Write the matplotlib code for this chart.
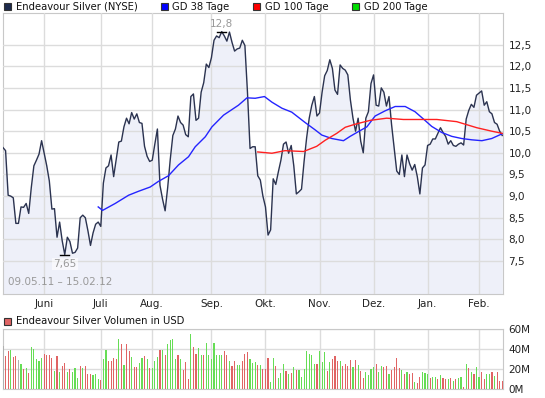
import numpy as np
import matplotlib
matplotlib.use('Agg')
import matplotlib.pyplot as plt
from matplotlib.patches import Rectangle

# ===== DATA =====
price = [10.12, 10.05, 9.02, 9.0, 8.96, 8.37, 8.37, 8.75, 8.74, 8.83,
         8.6, 9.2, 9.7, 9.83, 9.97, 10.28, 9.99, 9.7, 9.35, 8.7,
         8.71, 8.05, 8.4, 7.97, 7.65, 8.05, 7.95, 7.68, 7.7, 7.8,
         8.5, 8.56, 8.5, 8.2, 7.86, 8.15, 8.35, 8.4, 8.3, 9.3,
         9.65, 9.7, 9.95, 9.45, 9.85, 10.25, 10.27, 10.6, 10.8, 10.67,
         10.93, 10.78, 10.9, 10.7, 10.68, 10.15, 9.92, 9.8, 9.83, 10.2,
         10.55, 9.25, 8.93, 8.66, 9.2, 9.85, 10.4, 10.55, 10.85, 10.7,
         10.64, 10.42, 10.37, 11.3, 11.36, 10.75, 10.8, 11.4, 11.62, 12.05,
         11.97, 12.2, 12.6, 12.7, 12.66, 12.8, 12.7, 12.58, 12.79, 12.55,
         12.35, 12.4, 12.42, 12.6, 12.48, 11.4, 10.1, 10.14, 10.14, 9.47,
         9.37, 9.0, 8.75, 8.1, 8.22, 9.4, 9.27, 9.56, 9.83, 10.2,
         10.25, 9.99, 10.17, 9.7, 9.05, 9.1, 9.16, 9.8, 10.35, 10.8,
         11.1, 11.3, 10.85, 10.92, 11.4, 11.78, 11.9, 12.15, 11.95, 11.45,
         11.35, 12.03, 11.95, 11.91, 11.8, 11.22, 10.8, 10.5, 10.8, 10.27,
         10.0, 10.8, 10.95, 11.6, 11.8, 11.1, 11.08, 11.5, 11.4, 11.08,
         11.3, 10.65, 10.12, 9.58, 9.5, 9.95, 9.45, 9.95, 9.75, 9.6,
         9.73, 9.45, 9.05, 9.65, 9.72, 10.17, 10.2, 10.32, 10.32, 10.45,
         10.58, 10.47, 10.38, 10.2, 10.28, 10.17, 10.15, 10.2, 10.23, 10.18,
         10.78, 10.98, 11.12, 11.05, 11.33, 11.38, 11.43, 11.1, 11.18, 10.95,
         10.9, 10.7, 10.66, 10.5, 10.4]

gd38_idx = [37, 38.7, 43.6, 48.8, 52.6, 57.2, 60.4, 64.3, 68.2, 72.1,
            74.7, 78.6, 81.2, 85.7, 91.5, 94.8, 98.0, 101.6, 104.5, 108.4,
            112.2, 117.4, 121.3, 123.9, 127.8, 132.3, 134.9, 138.1, 141.4, 144.6,
            148.5, 152.4, 156.3, 160.1, 163.4, 166.6, 170.5, 174.4, 178.3, 182.2,
            186.1, 189.9, 194]
gd38_val = [8.75, 8.67, 8.83, 9.02, 9.11, 9.21, 9.34, 9.47, 9.72, 9.91,
            10.14, 10.37, 10.6, 10.87, 11.1, 11.27, 11.26, 11.3, 11.17, 11.03,
            10.94, 10.7, 10.53, 10.41, 10.33, 10.28, 10.38, 10.49, 10.6, 10.85,
            10.97, 11.07, 11.07, 10.95, 10.78, 10.61, 10.47, 10.38, 10.33, 10.3,
            10.28, 10.33, 10.44]

gd100_idx = [99, 104.5, 109.6, 116.8, 121.9, 125.2, 129.7, 133, 136.8, 142.7,
             149.1, 155.6, 168.6, 176.3, 184.1, 189.9, 194]
gd100_val = [10.02, 9.99, 10.05, 10.03, 10.15, 10.29, 10.45, 10.59, 10.66, 10.75,
             10.8, 10.77, 10.77, 10.72, 10.58, 10.5, 10.45]

volume = [43.3, 33.3, 38.3, 39.3, 32, 33.3, 29.3, 25.3, 20.3, 21.3,
          16.7, 42.7, 40.3, 30, 28.7, 31.7, 35.3, 34.3, 34.3, 31,
          18.3, 33.3, 17.7, 23.7, 26.7, 17.7, 20.3, 17.7, 21.7, 11.7,
          23.7, 21.7, 23.7, 15.3, 15.3, 14.3, 15.3, 10.3, 9.3, 30.3,
          39.3, 28.3, 28.3, 31, 30, 50.3, 45.3, 24.3, 45.3, 38.3,
          32.7, 22.7, 22.7, 26, 31, 33.3, 30.3, 21, 21, 28.3,
          32, 39.3, 39.3, 34.3, 45.3, 49.3, 50, 30.3, 34.3, 30.3,
          19.3, 27.7, 10.3, 55.3, 42.7, 35.3, 41.7, 34.3, 34.3, 46.7,
          34.3, 30.3, 46.7, 34, 34.3, 34.3, 38.3, 34.3, 28.7, 23.7,
          28.3, 24.3, 24.3, 28.7, 35, 37, 30.3, 26.7, 27.7, 24.3,
          24.3, 20.3, 20.3, 31.7, 7.7, 31.7, 23.3, 11.7, 16.7, 25.3,
          18.3, 15.3, 16.7, 22.7, 19.3, 19.3, 12.7, 20.3, 38.3, 35.3,
          34.3, 25.3, 25.3, 38.7, 27.7, 37, 18.3, 27.7, 30, 33.3,
          28.3, 28.3, 23.3, 25.3, 23.3, 29.3, 22, 29.3, 24.3, 18.3,
          11, 17.7, 14.3, 20.3, 22.7, 25.3, 17.7, 23.3, 22, 23.3,
          15.3, 19.3, 22, 31, 21.7, 19.3, 15.3, 17.7, 15.3, 16.7,
          7, 6.7, 12, 17.3, 16, 15.3, 11.7, 12.7, 12, 10.3,
          14.3, 11, 10, 10, 11, 8.7, 10, 11, 12, 2,
          25.3, 21.7, 17.7, 15.3, 22.7, 12.7, 17.7, 10.3, 15.3, 15.3,
          17.7, 13.3, 17.7, 8.7, 8.7]
# g = up day, r = down day, n = unchanged
vol_dir = ('nrrgrrngrg' 'rgggggrrrr' 'grgrrgrggg' 'rgrrrgggrg'
           'grrrrgrgrr' 'grrggrgrgg' 'grgrggggrg' 'rrrgrrggrg'
           'ggggggrrgr' 'rggrrrgggr' 'grrrggrggg' 'rgrgrggggg'
           'ggrgggrgrr' 'rgrrrrgrgr' 'rggggrggrr' 'grrrrgrgrr'
           'grrgggrggr' 'grrgrgrggr' 'grgrggrrgg' 'rgrrr')

month_pos = [16, 38, 58, 81, 102, 123, 144, 165, 185]
month_lbl = ['Juni', 'Juli', 'Aug.', 'Sep.', 'Okt.', 'Nov.', 'Dez.', 'Jan.', 'Feb.']
price_ticks = [7.5, 8.0, 8.5, 9.0, 9.5, 10.0, 10.5, 11.0, 11.5, 12.0, 12.5]
vol_ticks = [0, 20, 40, 60]

# ===== CHART =====
plt.rcParams['font.family'] = 'DejaVu Sans'
fig = plt.figure(figsize=(5.45, 3.98), dpi=100)
W, H = 545, 398

grid_c = '#dcdcdc'
spine_c = '#c8c8c8'
x = np.arange(len(price))
xmax = 194.3

ax = fig.add_axes([3 / W, 1 - 293.5 / H, 500 / W, 280.5 / H])
ax.fill_between(x, price, 6.75, color='#eef0f9', lw=0, zorder=1)
ax.plot(x, price, color='#2b3350', lw=1.0, zorder=3)
ax.plot(gd38_idx, gd38_val, color='#2424ff', lw=1.0, zorder=4)
ax.plot(gd100_idx, gd100_val, color='#ff2020', lw=1.0, zorder=4)
ax.set_xlim(0, xmax)
ax.set_ylim(6.75, 13.23)
ax.set_axisbelow(False)
ax.grid(True, color=grid_c, lw=1, zorder=2)
ax.set_yticks(price_ticks)
ax.set_yticklabels([f'{t:.1f}'.replace('.', ',') for t in price_ticks])
ax.yaxis.tick_right()
ax.set_xticks(month_pos)
ax.set_xticklabels(month_lbl)
ax.tick_params(length=0, labelsize=7.5, colors='#222222', pad=4)
for s in ax.spines.values():
    s.set_color(spine_c)

imax = int(np.argmax(price))
imin = int(np.argmin(price))
ax.plot([imax - 1.7, imax + 1.7], [price[imax]] * 2, color='black', lw=1, zorder=5)
ax.text(imax, price[imax] + 0.06, f'{price[imax]:g}'.replace('.', ','),
        ha='center', va='bottom', fontsize=7.5, color='#999999', zorder=5)
ax.plot([imin - 1.7, imin + 1.7], [price[imin]] * 2, color='black', lw=1, zorder=5)
ax.text(imin, price[imin] - 0.1, f'{price[imin]:g}'.replace('.', ','),
        ha='center', va='top', fontsize=7.5, color='#999999', zorder=5,
        bbox=dict(facecolor='white', edgecolor='none', alpha=0.6, pad=1))
ax.text(0.01, 0.022, '09.05.11 \u2013 15.02.12', transform=ax.transAxes,
        ha='left', va='bottom', fontsize=7.5, color='#999999')

# volume panel
axv = fig.add_axes([3 / W, 1 - 389.3 / H, 500 / W, 60 / H])
cmap = {'r': '#e06464', 'g': '#66dd55', 'n': '#b0b0b0'}
axv.bar(x, volume, width=0.45, color=[cmap[c] for c in vol_dir], zorder=3)
axv.set_xlim(0, xmax)
axv.set_ylim(0, 60)
axv.set_xticks(month_pos)
axv.set_xticklabels([])
axv.set_yticks(vol_ticks)
axv.set_yticklabels([f'{t}M' for t in vol_ticks])
axv.yaxis.tick_right()
axv.grid(True, color=grid_c, lw=1, zorder=0)
axv.tick_params(length=0, labelsize=7.5, colors='#222222', pad=4)
for s in axv.spines.values():
    s.set_color(spine_c)

# legends
def legend_item(x0, yc, color, label):
    fig.patches.append(Rectangle((x0 / W, 1 - (yc + 3.5) / H), 7 / W, 7 / H,
                                 transform=fig.transFigure, facecolor=color,
                                 edgecolor='#333333', lw=0.8))
    fig.text((x0 + 12) / W, 1 - yc / H, label, fontsize=7.2, va='center',
             ha='left', color='#111111')

legend_item(3.5, 6.5, '#1c2a4c', 'Endeavour Silver (NYSE)')
legend_item(160.5, 6.5, '#0000ff', 'GD 38 Tage')
legend_item(253, 6.5, '#ff0000', 'GD 100 Tage')
legend_item(352, 6.5, '#00dd00', 'GD 200 Tage')
legend_item(3.5, 321, '#e06464', 'Endeavour Silver Volumen in USD')

plt.savefig('out.png', dpi=100)
